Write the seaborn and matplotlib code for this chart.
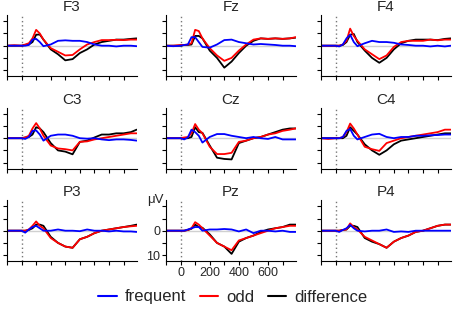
import numpy as np
import pandas as pd
import matplotlib
matplotlib.use("Agg")
import matplotlib.pyplot as plt
from matplotlib.lines import Line2D
import seaborn as sns

sns.set_style("white")
plt.rcParams['font.family'] = ['Liberation Sans', 'DejaVu Sans']

times = [-100, -50, 0, 25, 50, 75, 100, 125, 150, 200, 250, 300, 350, 400, 450, 500, 550, 600, 650, 700, 750, 790]
channels = ["F3", "Fz", "F4", "C3", "Cz", "C4", "P3", "Pz", "P4"]
conditions = ["frequent", "odd", "difference"]

frequent = {
    "F3": [0, 0, 0, 0, -0.3, -2.5, -2.8, -1.5, 0.2, -0.5, -2.0, -2.2, -2.0, -2.0, -1.5, -0.5, 0, 0, 0.3, 0, 0, 0.2],
    "Fz": [0, 0.2, 0, -0.3, -0.5, -3.5, -3.5, -1.5, 0.5, 0.8, -0.5, -2.3, -2.5, -1.5, -1.0, -0.5, -0.7, -0.5, -0.3, 0, 0, 0.2],
    "F4": [0, 0, 0, 0.3, -0.5, -3.0, -4.5, -1.5, 0.2, -1.0, -2.0, -1.5, -1.5, -1.2, -0.5, -0.3, 0, 0, 0.3, 0, 0.3, 0],
    "C3": [0, 0, 0, 0.3, -0.5, -3.0, -3.2, -1.5, 1.0, -1.0, -1.5, -1.5, -1.0, 0, 0.2, 0, 0.5, 0.8, 0.5, 0.5, 0.7, 1.0],
    "Cz": [0, 0, 0, 0.5, -0.3, -3.5, -2.5, -1.0, 1.8, -0.5, -1.7, -1.7, -1.0, -0.5, 0, -0.5, 0, 0.3, -0.5, 0.5, 0.5, 0.5],
    "C4": [0, 0, 0, 0, -0.5, -3.0, -3.8, -1.0, 0.5, -0.5, -1.5, -1.8, -0.5, 0, -0.5, -0.5, -1.0, -1.0, -1.2, -1.3, -1.5, -1.5],
    "P3": [0, 0, 0, 0.8, -0.5, -1.5, -2.0, -1.0, 0, 0, -0.5, 0, 0, 0.2, -0.5, 0, 0, 0.3, 0, 0.3, 0.3, 0.5],
    "Pz": [0, 0, 0, 0, -0.5, -1.0, -1.5, -1.5, 0, -0.5, -0.5, -0.7, -0.5, 0.3, -0.5, 1.0, 0, 0, 0.3, 0, 0.5, 0.5],
    "P4": [0, 0, 0, 0.5, -0.3, -1.0, -2.4, -1.0, 0, 0.3, 0, 0, -0.5, 0.5, 0.3, 0.5, 0, 0, 0, 0, 0, 0],
}
odd = {
    "F3": [0, -0.2, 0, -0.5, -1.0, -3.0, -6.5, -5.0, -2.5, 1.0, 2.5, 4.0, 3.8, 1.5, -0.5, -1.5, -2.3, -2.3, -2.4, -2.3, -2.5, -2.5],
    "Fz": [0, 0, -0.3, -0.3, -0.5, -1.0, -6.5, -6.0, -3.0, 1.0, 4.0, 6.2, 5.0, 2.0, -0.5, -2.5, -3.0, -2.8, -3.0, -2.8, -3.0, -3.5],
    "F4": [0, 0, 0, 0, -0.5, -2.0, -7.0, -4.0, -2.0, 1.5, 3.5, 5.5, 4.0, 0.5, -1.5, -2.0, -2.0, -2.0, -2.5, -2.2, -2.5, -2.5],
    "C3": [0, 0, 0, -0.3, -1.0, -4.0, -6.2, -4.0, -1.0, 3.0, 4.2, 4.5, 5.0, 1.5, 1.3, 0.5, 0, -0.5, -1.0, -1.5, -2.0, -2.0],
    "Cz": [0, 0, 0, -0.3, -0.5, -2.0, -5.8, -3.5, -2.0, 3.5, 6.5, 6.5, 6.0, 1.5, 1.0, 0, -0.5, -1.5, -2.0, -3.0, -3.5, -4.0],
    "C4": [0, 0.3, 0, 0, -0.5, -2.5, -6.0, -4.0, -1.5, 3.5, 4.5, 5.2, 2.0, 1.0, 0, -0.5, -1.0, -1.5, -2.0, -2.5, -3.5, -3.5],
    "P3": [0, 0, 0, 0, -0.5, -2.0, -3.8, -2.0, -1.0, 3.0, 5.0, 6.5, 7.0, 3.5, 2.5, 1.0, 0, -0.5, -1.0, -1.5, -1.8, -2.0],
    "Pz": [0, 0, 0, 0, -0.3, -1.0, -3.5, -2.5, -1.0, 2.0, 5.0, 6.5, 8.0, 4.0, 3.0, 2.0, 1.0, 0, -1.0, -1.5, -2.0, -2.0],
    "P4": [0, 0, 0, 0, -0.3, -0.5, -3.0, -1.5, -0.5, 2.5, 4.0, 5.5, 7.0, 4.5, 3.0, 2.0, 0.5, 0, -1.0, -2.0, -2.5, -2.5],
}
difference = {
    "F3": [0, 0, 0, -0.3, -0.5, -1.5, -4.5, -4.6, -2.5, 1.5, 3.5, 6.0, 5.5, 3.0, 1.5, -0.5, -1.5, -2.0, -2.5, -2.5, -2.8, -3.0],
    "Fz": [0, 0, 0, -0.3, -0.3, -0.5, -4.0, -4.0, -3.0, 2.0, 5.0, 9.0, 6.5, 3.0, 0, -2.0, -3.0, -2.8, -3.0, -2.8, -3.0, -3.3],
    "F4": [0, 0, 0, 0, -0.3, -1.5, -4.5, -4.8, -1.5, 2.0, 5.0, 7.0, 5.0, 1.5, -1.0, -2.0, -2.5, -2.5, -2.5, -2.3, -2.8, -3.0],
    "C3": [0, 0, 0, -0.3, -0.5, -1.5, -4.5, -4.0, -2.5, 2.0, 5.0, 5.5, 6.6, 1.5, 1.0, -0.3, -1.5, -1.5, -2.0, -2.0, -2.5, -3.5],
    "Cz": [0, 0, 0, 0, 0, -0.5, -4.5, -2.5, -2.2, 3.0, 8.0, 8.5, 8.7, 2.0, 1.0, 0, -0.5, -1.5, -2.5, -3.5, -4.0, -4.0],
    "C4": [0, 0, 0, 0, 0, -1.0, -4.5, -3.0, -1.5, 2.5, 5.0, 6.8, 5.0, 2.5, 1.0, 0.5, 0, -0.5, -1.0, -1.5, -2.0, -2.0],
    "P3": [0, 0, 0, 0, -0.3, -1.0, -2.5, -2.5, -2.0, 2.5, 5.0, 6.5, 7.0, 3.5, 2.5, 1.0, 0, -0.5, -1.0, -1.5, -2.0, -2.5],
    "Pz": [0, 0, 0, 0, -0.3, -0.8, -2.5, -1.5, -1.2, 1.5, 5.0, 6.5, 9.5, 4.5, 3.0, 2.0, 0.5, -0.5, -1.0, -1.5, -2.5, -2.5],
    "P4": [0, 0, 0, 0, -0.3, -0.5, -2.0, -2.0, -1.5, 3.0, 4.5, 5.5, 7.0, 4.5, 3.0, 2.0, 0.5, 0, -1.0, -2.0, -2.5, -2.5],
}

colors = {"frequent": "#0000ff", "odd": "#ff0000", "difference": "#000000"}

rows = []
for ch in channels:
    for cond, src in zip(conditions, [frequent, odd, difference]):
        for t, v in zip(times, src[ch]):
            rows.append({"channel": ch, "condition": cond, "time": t, "value": v})
df = pd.DataFrame(rows)

W, H = 454, 310
fig = plt.figure(figsize=(W / 100, H / 100), dpi=100)

col_left = [7, 166, 321]
ax_w = 130
row_zero = [45.7, 138.2, 230.7]
half_h = 30.5

for i, ch in enumerate(channels):
    r, c = divmod(i, 3)
    top = row_zero[r] - half_h
    ax = fig.add_axes([col_left[c] / W, 1 - (top + 2 * half_h) / H, ax_w / W, 2 * half_h / H])
    ax.axhline(0, color="#d0d0d0", lw=1.0, zorder=0)
    ax.axvline(0, color="#777777", lw=1.0, ls=(0, (1, 2)), zorder=0)
    sub = df[df.channel == ch]
    sns.lineplot(data=sub, x="time", y="value", hue="condition",
                 hue_order=["difference", "odd", "frequent"], palette=colors,
                 linewidth=1.3, ax=ax, legend=False)
    ax.set_xlim(-100, 792)
    ax.set_ylim(12.5, -12.5)
    ax.set_xticks([-100, 0, 100, 200, 300, 400, 500, 600, 700])
    ax.set_yticks([-10, -5, 0, 5, 10])
    ax.set_xlabel("")
    ax.set_ylabel("")
    for s in ["top", "right"]:
        ax.spines[s].set_visible(False)
    for s in ["left", "bottom"]:
        ax.spines[s].set_color("black")
        ax.spines[s].set_linewidth(0.8)
    ax.tick_params(axis="both", which="major", bottom=True, left=True,
                   direction="out", length=3, width=0.8, color="black",
                   labelsize=9, pad=1)
    ax.set_title(ch, fontsize=11, pad=3)
    if ch == "Pz":
        ax.set_xticklabels(["", "0", "", "200", "", "400", "", "600", ""])
        ax.set_yticklabels(["", "", "0", "", "10"])
        ax.text(-0.02, 1.0, "μV", transform=ax.transAxes, ha="right", va="center", fontsize=9.5)
    else:
        ax.set_xticklabels([])
        ax.set_yticklabels([])

handles = [Line2D([0], [0], color=colors[c], lw=1.5) for c in conditions]
fig.legend(handles, conditions, loc="center", bbox_to_anchor=(233 / W, 1 - 297 / H),
           ncol=3, frameon=False, fontsize=12, handlelength=1.1, columnspacing=0.8,
           handletextpad=0.5)

fig.savefig("out.png", dpi=100)
